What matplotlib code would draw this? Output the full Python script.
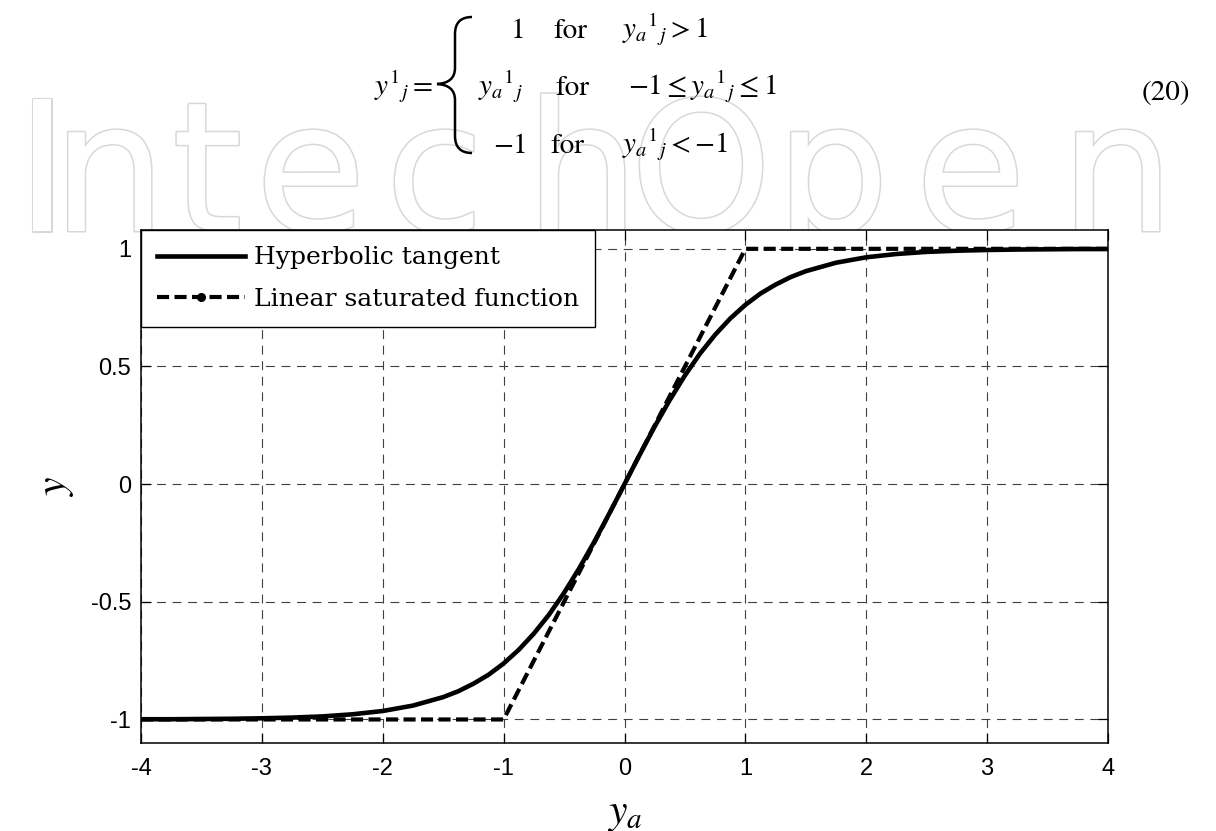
import matplotlib
matplotlib.use("Agg")
import matplotlib.pyplot as plt
import matplotlib.patheffects as pe
from matplotlib.lines import Line2D
from matplotlib.path import Path
from matplotlib.patches import PathPatch

# ── Data ───────────────────────────────────────────────────────────────────
x_tanh = [-4.0, -3.75, -3.5, -3.25, -3.0, -2.75, -2.5, -2.25, -2.0, -1.75,
          -1.5, -1.375, -1.25, -1.125, -1.0, -0.875, -0.75, -0.625, -0.5,
          -0.375, -0.25, -0.125, 0.0, 0.125, 0.25, 0.375, 0.5, 0.625, 0.75,
          0.875, 1.0, 1.125, 1.25, 1.375, 1.5, 1.75, 2.0, 2.25, 2.5, 2.75,
          3.0, 3.25, 3.5, 3.75, 4.0]
y_tanh = [-0.999, -0.999, -0.998, -0.997, -0.995, -0.992, -0.987, -0.978,
          -0.964, -0.941, -0.905, -0.880, -0.848, -0.810, -0.762, -0.704,
          -0.635, -0.555, -0.462, -0.358, -0.245, -0.124, 0.0, 0.124, 0.245,
          0.358, 0.462, 0.555, 0.635, 0.704, 0.762, 0.810, 0.848, 0.880,
          0.905, 0.941, 0.964, 0.978, 0.987, 0.992, 0.995, 0.997, 0.998,
          0.999, 0.999]

x_lin = [-4.0, -1.0, 1.0, 4.0]
y_lin = [-1.0, -1.0, 1.0, 1.0]

x_ticks = [-4, -3, -2, -1, 0, 1, 2, 3, 4]
y_ticks = [-1, -0.5, 0, 0.5, 1]
y_tick_labels = ["-1", "-0.5", "0", "0.5", "1"]
legend_labels = ["Hyperbolic tangent", "Linear saturated function"]

W, H = 1216, 831

plt.rcParams.update({
    "mathtext.fontset": "stix",
    "font.family": "Liberation Sans",
})

fig = plt.figure(figsize=(W / 100, H / 100), dpi=100)
fig.patch.set_facecolor("white")


def px(x, y):
    """pixel (from top-left) -> figure fraction"""
    return x / W, 1 - y / H


# watermark, sits behind the axes (its baseline is hidden by the axes);
# letters spaced out one by one since the original face is wider
wm_letters = "IntechOpen"
wm_left_px = [15, 52, 172, 255, 385, 525, 630, 775, 915, 1060]
for ch, xl in zip(wm_letters, wm_left_px):
    fig.text(*px(xl, 231), ch, ha="left", va="baseline", fontsize=130,
             family="DejaVu Sans", color="white", zorder=-5,
             path_effects=[pe.withStroke(linewidth=2.2, foreground="#d8d8d8")])

# ── Equation (20) ──────────────────────────────────────────────────────────
eq = dict(fontsize=21, va="baseline", color="black")
rm = dict(eq, family="STIXGeneral")
Y = r"y_{a}{}^{1}{}_{j}"

fig.text(*px(433, 95), r"$y^{1}{}_{j} =$", ha="right", **eq)

fig.text(*px(510, 38), r"$1$", **eq)
fig.text(*px(553, 38), "for", **rm)
fig.text(*px(622, 38), "$" + Y + r" > 1$", **eq)

fig.text(*px(478, 95), "$" + Y + "$", **eq)
fig.text(*px(555, 95), "for", **rm)
fig.text(*px(628, 95), r"$-1 \leq " + Y + r" \leq 1$", **eq)

fig.text(*px(493, 153), r"$-1$", **eq)
fig.text(*px(550, 153), "for", **rm)
fig.text(*px(622, 153), "$" + Y + r" < -1$", **eq)

fig.text(*px(1190, 100), "(20)", ha="right", **rm)

# curly brace
bx, tip, x_end = 455, 437, 472
verts = [px(x_end, 17), px(bx, 17), px(bx, 34),
         px(bx, 68),
         px(bx, 83), px(tip, 84),
         px(bx, 85), px(bx, 100),
         px(bx, 136),
         px(bx, 153), px(x_end, 153)]
codes = [Path.MOVETO, Path.CURVE3, Path.CURVE3,
         Path.LINETO,
         Path.CURVE3, Path.CURVE3,
         Path.CURVE3, Path.CURVE3,
         Path.LINETO,
         Path.CURVE3, Path.CURVE3]
fig.patches.append(PathPatch(Path(verts, codes), transform=fig.transFigure,
                             fill=False, edgecolor="black", linewidth=1.8,
                             capstyle="butt"))

# ── Plot ───────────────────────────────────────────────────────────────────
left, top = px(141, 230)
right, bottom = px(1108, 743)
ax = fig.add_axes([left, bottom, right - left, top - bottom])
ax.set_facecolor("white")
ax.set_zorder(1)

ax.plot(x_tanh, y_tanh, color="black", linewidth=3.3, solid_joinstyle="round",
        zorder=5)
ax.plot(x_lin, y_lin, color="black", linewidth=3.0, linestyle=(0, (2.9, 1.3)),
        zorder=4)

ax.set_xlim(-4, 4)
ax.set_ylim(-1.1, 1.08)
ax.set_xticks(x_ticks)
ax.set_xticklabels([str(t) for t in x_ticks])
ax.set_yticks(y_ticks)
ax.set_yticklabels(y_tick_labels)
ax.tick_params(direction="in", length=7, width=0.9, top=True, right=True,
               labelsize=17, colors="black")
ax.tick_params(axis="x", pad=11)
ax.tick_params(axis="y", pad=7)
for s in ax.spines.values():
    s.set_linewidth(1.1)
ax.grid(True, color="#404040", linestyle=(0, (8, 6)), linewidth=0.8)

ax.set_xlabel(r"$y_a$", fontsize=30)
ax.xaxis.set_label_coords(0.5, -0.1)
ax.set_ylabel(r"$y$", fontsize=30, rotation=90, va="center")
ax.yaxis.set_label_coords(-0.088, 0.5)

handles = [
    Line2D([], [], color="black", linewidth=3.3),
    Line2D([], [], color="black", linewidth=3.0, linestyle=(0, (2.9, 1.3)),
           marker="o", markersize=5.5),
]
leg = ax.legend(handles, legend_labels, loc="upper left", borderaxespad=0,
                fancybox=False, framealpha=1, edgecolor="black",
                handlelength=3.5, handletextpad=0.35, borderpad=0.65,
                labelspacing=0.75, prop={"family": "DejaVu Serif", "size": 18})
leg.get_frame().set_linewidth(1.0)

fig.savefig("out.png", dpi=100)
